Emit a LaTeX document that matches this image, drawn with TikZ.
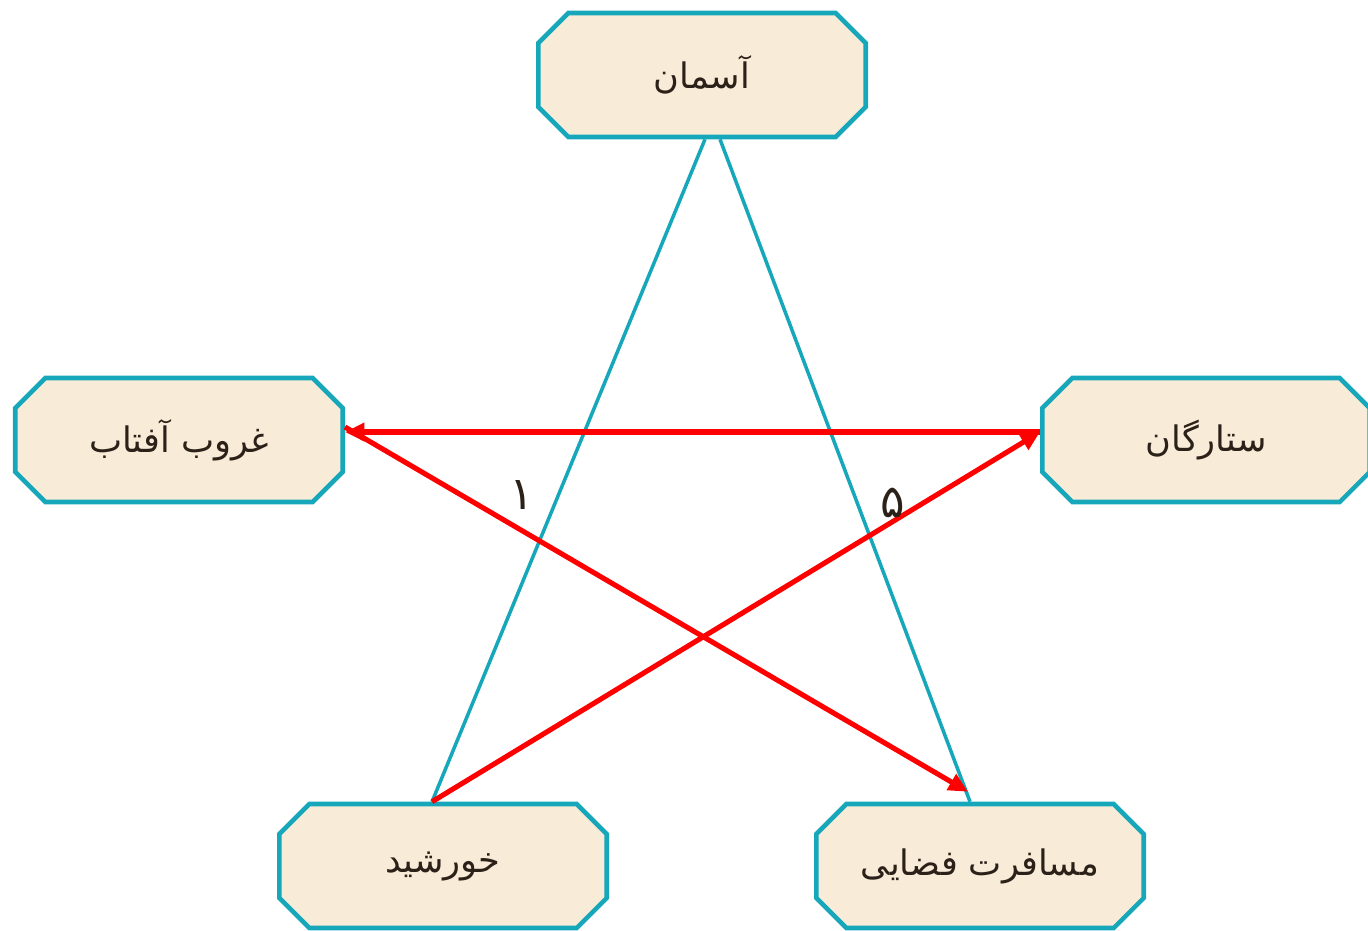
\documentclass[tikz,border=0pt]{standalone}
\usepackage{fontspec}
\newfontfamily\arabicfont[Script=Arabic]{DejaVu Sans}
\TeXXeTstate=1
\usetikzlibrary{shapes.misc,arrows.meta}
\definecolor{boxline}{HTML}{16A8BA}
\definecolor{boxfill}{HTML}{F8EBD8}
\definecolor{ink}{HTML}{2B2118}
\tikzset{
	word/.style={chamfered rectangle, chamfered rectangle xsep=0.3cm, chamfered rectangle ysep=0.3cm,
		draw=boxline, fill=boxfill, line width=2.6pt, minimum width=6.55cm, minimum height=2.48cm,
		text=ink, font=\arabicfont\fontsize{20}{24}\selectfont},
	link/.style={boxline, line width=2pt},
	pair/.style={red, line width=2.9pt, -{Triangle[length=11pt,width=10pt]}},
	num/.style={text=ink, font=\arabicfont\fontsize{26}{30}\selectfont}
}
\newcommand{\fa}[1]{\beginR #1\endR}
\begin{document}
\begin{tikzpicture}[x=0.02cm, y=-0.02cm]
	\useasboundingbox (0,0) rectangle (1368,930);

	% the five words
	\node[word] (sky) at (702,75) {\fa{آسمان}};
	\node[word] (sunset) at (179,440) {\fa{غروب آفتاب}};
	\node[word] (stars) at (1206,440) {\fa{ستارگان}};
	\node[word] (sun) at (443,866) {\fa{خورشید}};
	\node[word] (trip) at (980,866) {\fa{مسافرت فضایی}};

	% teal lines
	\draw[link] ([xshift=0.06cm]sky.south) -- ([xshift=-0.22cm]sun.north);
	\draw[link] ([xshift=0.36cm]sky.south) -- ([xshift=-0.2cm]trip.north);

	% red arrows
	\draw[pair] ([yshift=0.16cm]stars.west) -- ([yshift=0.16cm]sunset.east);
	\draw[pair] ([xshift=-0.22cm]sun.north) -- ([yshift=0.16cm]stars.west);
	\draw[pair] ([yshift=0.26cm]sunset.east) -- ([shift={(-0.24cm,0.2cm)}]trip.north);

	% numbers
	\node[num] (one) at (522,495) {\fa{۱}};
	\node[num] (five) at (893,503) {\fa{۵}};
\end{tikzpicture}
\end{document}
